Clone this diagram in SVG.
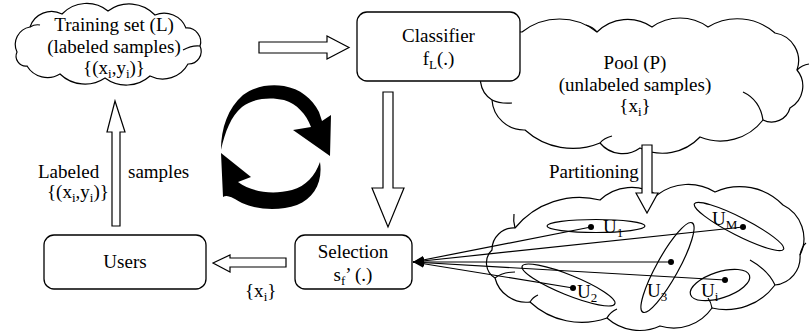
<svg xmlns="http://www.w3.org/2000/svg" width="811" height="334" viewBox="0 0 811 334">
<style>
.cloud{fill:#fff;stroke:#000;stroke-width:1.2}
.hook{fill:none;stroke:#000;stroke-width:1.2}
.box{fill:#fff;stroke:#000;stroke-width:1.3}
.blk{fill:#fff;stroke:#000;stroke-width:1.2}
.part{fill:none;stroke:#000;stroke-width:1.2}
.ln{stroke:#000;stroke-width:1.2;fill:none;marker-end:url(#ah)}
.dot{fill:#000}
text{font-family:"Liberation Serif","Times New Roman",serif;font-size:19px;fill:#000}
.c{text-anchor:middle}
.brush{fill:#000}
</style>
<defs>
<marker id="ah" markerUnits="userSpaceOnUse" markerWidth="11" markerHeight="8" refX="11" refY="4" orient="auto">
<path d="M0,0 L11,4 L0,8 Z" fill="#000"/>
</marker>
</defs>
<rect width="811" height="334" fill="#fff"/>

<g id="training">
<path class="cloud" d="M17,52 A17.7 17.7 0 0 1 30,27 A22.7 22.7 0 0 1 62,14 A33.9 33.9 0 0 1 108,11 A35.4 35.4 0 0 1 155,15 A23.6 23.6 0 0 1 186,28 A13.8 13.8 0 0 1 200,46 A12.7 12.7 0 0 1 188,64 A28.8 28.8 0 0 1 150,76 A35.6 35.6 0 0 1 105,78 A35.9 35.9 0 0 1 60,74 A23.9 23.9 0 0 1 27,66 A9.9 9.9 0 0 1 17,52 Z"/>
<path class="hook" d="M200,46 Q192,45 183,50"/>
<path class="hook" d="M30,27 Q35,24 40,25"/>
<text class="c" x="114" y="31">Training set (L)</text>
<text class="c" x="114" y="53">(labeled samples)</text>
<text class="c" x="114" y="74">{(x<tspan font-size="13" dy="4">i</tspan><tspan dy="-4">,y</tspan><tspan font-size="13" dy="4">i</tspan><tspan dy="-4">)}</tspan></text>
</g>

<g id="pool">
<path class="cloud" d="M492,100 A24.9 24.9 0 0 1 487,62 A31.5 31.5 0 0 1 522,32 A60.6 60.6 0 0 1 597,32 A43.1 43.1 0 0 1 652,27 A48 48 0 0 1 708,27 A56.8 56.8 0 0 1 775,33 A28.1 28.1 0 0 1 797,70 A25.2 25.2 0 0 1 790,108 A19.1 19.1 0 0 1 763,120 A53.8 53.8 0 0 1 700,137 A51.5 51.5 0 0 1 640,148 A29.5 29.5 0 0 1 600,143 A71.1 71.1 0 0 1 525,130 A32.1 32.1 0 0 1 492,100 Z"/>
<path class="hook" d="M492,100 Q500,104 512,103"/>
<path class="hook" d="M597,32 Q593,27 586,25"/>
<path class="hook" d="M763,120 Q760,100 743,92"/>
<path class="hook" d="M797,70 Q802,65 809,64"/>
<path class="hook" d="M600,143 Q604,138 612,136"/>
<text class="c" x="635" y="69">Pool (P)</text>
<text class="c" x="635" y="91">(unlabeled samples)</text>
<text class="c" x="635" y="112">{x<tspan font-size="13" dy="4">i</tspan><tspan dy="-4">}</tspan></text>
</g>

<g id="classifier">
<rect class="box" x="357" y="12" width="163" height="69" rx="10"/>
<text class="c" x="438.5" y="42">Classifier</text>
<text class="c" x="438.5" y="65">f<tspan font-size="13" dy="4">L</tspan><tspan dy="-4">(.)</tspan></text>
</g>

<g id="partition">
<path class="cloud" d="M492,250 A21.6 21.6 0 0 1 515,228 A83.4 83.4 0 0 1 600,200 A45.9 45.9 0 0 1 657,195 A51.2 51.2 0 0 1 715,192 A59.9 59.9 0 0 1 783,205 A37.2 37.2 0 0 1 800,255 A27.8 27.8 0 0 1 775,285 A61.1 61.1 0 0 1 712,308 A46.5 46.5 0 0 1 660,326 A48.9 48.9 0 0 1 607,318 A75.7 75.7 0 0 1 530,302 A32.1 32.1 0 0 1 495,278 A17.7 17.7 0 0 1 492,250 Z"/>
<path class="hook" d="M515,228 Q513,221 514,214"/>
<path class="hook" d="M495,278 Q502,272 515,272"/>
<path class="hook" d="M530,302 Q533,297 538,295"/>
<path class="hook" d="M607,318 Q610,312 617,309"/>
<path class="hook" d="M712,308 Q711,302 708,298"/>
<path class="hook" d="M775,285 Q768,270 750,260"/>
<path class="hook" d="M800,255 Q802,246 806,243"/>
<ellipse class="part" cx="596" cy="226" rx="49" ry="6.5"/>
<ellipse class="part" cx="739" cy="226.5" rx="50" ry="9" transform="rotate(27 739 226.5)"/>
<ellipse class="part" cx="667.5" cy="267.5" rx="51" ry="11" transform="rotate(-61 667.5 267.5)"/>
<ellipse class="part" cx="568.5" cy="285" rx="50" ry="10" transform="rotate(22 568.5 285)"/>
<ellipse class="part" cx="720" cy="285" rx="31" ry="13" transform="rotate(-18 720 285)"/>
<circle class="dot" cx="591" cy="227" r="3"/>
<circle class="dot" cx="743" cy="227" r="3"/>
<circle class="dot" cx="671" cy="262" r="3"/>
<circle class="dot" cx="725" cy="280" r="3"/>
<circle class="dot" cx="573" cy="288" r="3"/>
<text x="603" y="233">U<tspan font-size="13" dy="4">1</tspan></text>
<text x="712" y="225">U<tspan font-size="13" dy="4">M</tspan></text>
<text x="647" y="297">U<tspan font-size="13" dy="4">3</tspan></text>
<text x="577" y="298">U<tspan font-size="13" dy="4">2</tspan></text>
<text x="701" y="297">U<tspan font-size="13" dy="4">i</tspan></text>
</g>

<g id="selection">
<rect class="box" x="295" y="235" width="117" height="54" rx="10"/>
<text class="c" x="353" y="258">Selection</text>
<text class="c" x="353" y="281">s<tspan font-size="13" dy="4">f</tspan><tspan dy="-4">’ (.)</tspan></text>
</g>

<g id="users">
<rect class="box" x="44" y="235" width="162" height="54" rx="10"/>
<text class="c" x="125" y="268">Users</text>
</g>

<g id="cycle">
<path class="brush" d="M221,150 C221,128 228,108 243,95 C255,86 270,84 284,86 C300,89 312,98 319,112 L322,121 L331,115 L330,156 L293,130 L311,127 C306,114 297,104 284,100 C270,97 254,98 242,107 C231,116 225,132 221,150 Z"/>
<path class="brush" d="M320,162 C323,182 314,198 297,205 C280,211 257,210 242,203 C234,199 228,194 223,197 L221,153 L251,177 L238,182 C252,192 272,195 292,190 C306,186 315,176 320,162 Z"/>
</g>

<g id="connectors">
<polygon class="blk" points="259,42 327,42 327,36 349,47.5 327,59 327,53 259,53"/>
<polygon class="blk" points="383,92 393,92 393,188 404,188 388,227 372,188 383,188"/>
<polygon class="blk" points="642,145 652,145 652,193 658,193 647,213 636,193 642,193"/>
<polygon class="blk" points="112,226 112,132 107,132 115,101 125,132 120,132 120,226"/>
<polygon class="blk" points="286,258 230,258 230,255 213,263 230,272 230,267 286,267"/>
<line class="ln" x1="591" y1="227" x2="413" y2="262"/>
<line class="ln" x1="743" y1="227" x2="413" y2="262"/>
<line class="ln" x1="671" y1="262" x2="413" y2="262"/>
<line class="ln" x1="725" y1="280" x2="413" y2="262"/>
<line class="ln" x1="573" y1="288" x2="413" y2="262"/>
<text x="38" y="178">Labeled</text>
<text x="128" y="178">samples</text>
<text x="47" y="198">{(x<tspan font-size="13" dy="4">i</tspan><tspan dy="-4">,y</tspan><tspan font-size="13" dy="4">i</tspan><tspan dy="-4">)}</tspan></text>
<text x="245" y="297">{x<tspan font-size="13" dy="4">i</tspan><tspan dy="-4">}</tspan></text>
<text x="549" y="178">Partitioning</text>
</g>
</svg>
